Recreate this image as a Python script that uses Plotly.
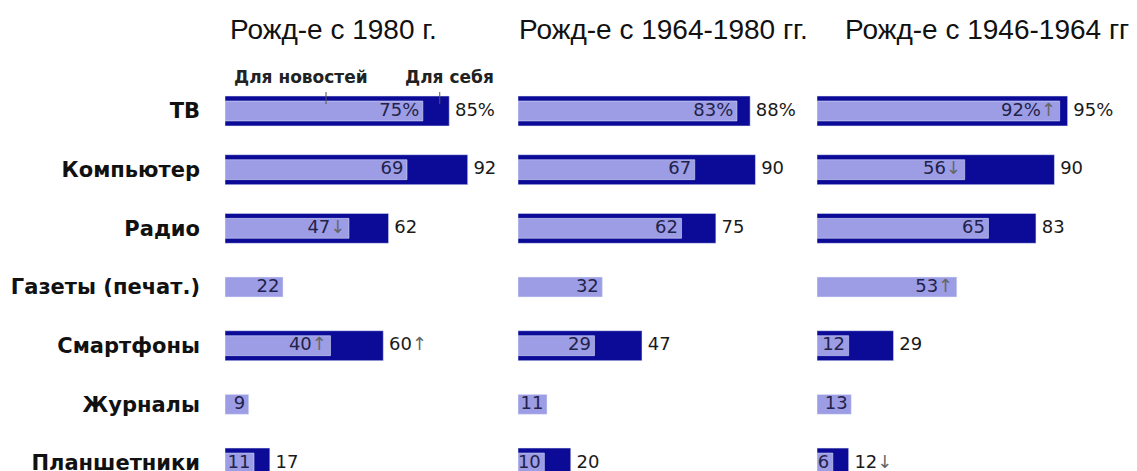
import plotly.graph_objects as go

categories = ["ТВ", "Компьютер", "Радио", "Газеты (печат.)", "Смартфоны", "Журналы", "Планшетники"]
panel_titles = ["Рожд-е с 1980 г.", "Рожд-е с 1964-1980 гг.", "Рожд-е с 1946-1964 гг"]

# Для новостей (светлые столбцы)
news_1980 = [75, 69, 47, 22, 40, 9, 11]
news_1964 = [83, 67, 62, 32, 29, 11, 10]
news_1946 = [92, 56, 65, 53, 12, 13, 6]

# Для себя (тёмные столбцы), None - нет данных
self_1980 = [85, 92, 62, None, 60, None, 17]
self_1964 = [88, 90, 75, None, 47, None, 20]
self_1946 = [95, 90, 83, None, 29, None, 12]

# стрелки изменения: "up" / "down" / ""
news_arrows_1980 = ["", "", "down", "", "up", "", ""]
news_arrows_1964 = ["", "", "", "", "", "", ""]
news_arrows_1946 = ["up", "down", "", "up", "", "", ""]
self_arrows_1980 = ["", "", "", "", "up", "", ""]
self_arrows_1964 = ["", "", "", "", "", "", ""]
self_arrows_1946 = ["", "", "", "", "", "", "down"]

DARK = "#0b0b98"
LIGHT = "#9d9de6"
W, H = 1137, 471
OFF = 8  # отступ body у страницы
ARROW = {"up": "<span style='color:#666666'>↑</span>", "down": "<span style='color:#666666'>↓</span>", "": ""}


def px_x(p):
    return (p - OFF) / W


def px_y(p):
    return 1 - (p - OFF) / H


def fmt(values, arrows):
    out = []
    for i, (v, a) in enumerate(zip(values, arrows)):
        if v is None:
            out.append("")
            continue
        s = f"{v}%" if i == 0 else f"{v}"
        out.append(s + ARROW[a])
    return out


panels = [
    (news_1980, self_1980, news_arrows_1980, self_arrows_1980),
    (news_1964, self_1964, news_arrows_1964, self_arrows_1964),
    (news_1946, self_1946, news_arrows_1946, self_arrows_1946),
]
starts_px = [225, 518, 817]
x_max = 105
panel_px = 277
row0, row_step = 111 - OFF, 58.67

fig = go.Figure()
for k, (news, own, na, sa) in enumerate(panels):
    xa = "x" if k == 0 else f"x{k + 1}"
    fig.add_trace(go.Bar(x=own, y=categories, orientation="h", marker_color=DARK,
                         width=0.51, xaxis=xa, yaxis="y", showlegend=False, hoverinfo="skip"))
    fig.add_trace(go.Bar(x=news, y=categories, orientation="h", marker_color=LIGHT,
                         width=0.34, xaxis=xa, yaxis="y", showlegend=False, hoverinfo="skip"))
    fig.add_trace(go.Scatter(x=news, y=categories, mode="text", text=[t + "\u2009" for t in fmt(news, na)],
                             textposition="middle left", xaxis=xa, yaxis="y", cliponaxis=False,
                             textfont=dict(family="DejaVu Sans", size=18, color="#22224a"),
                             showlegend=False, hoverinfo="skip"))
    fig.add_trace(go.Scatter(x=own, y=categories, mode="text", text=[" " + t if t else "" for t in fmt(own, sa)],
                             textposition="middle right", xaxis=xa, yaxis="y", cliponaxis=False,
                             textfont=dict(family="DejaVu Sans", size=18, color="#1a1a1a"),
                             showlegend=False, hoverinfo="skip"))

layout = dict(
    width=W, height=H,
    margin=dict(l=0, r=0, t=0, b=0),
    paper_bgcolor="white", plot_bgcolor="white",
    barmode="overlay",
    yaxis=dict(type="category", categoryorder="array", categoryarray=categories,
               range=[(H - row0) / row_step, -row0 / row_step], showgrid=False, zeroline=False,
               showline=False, ticks="", ticklabelstandoff=24, anchor="x", automargin=False,
               tickfont=dict(family="DejaVu Sans", size=21, color="#111111", weight="bold")),
)
for k, s in enumerate(starts_px):
    key = "xaxis" if k == 0 else f"xaxis{k + 1}"
    layout[key] = dict(domain=[px_x(s), px_x(s + panel_px)], range=[0, x_max], anchor="y",
                       showgrid=False, zeroline=False, showticklabels=False, showline=False,
                       automargin=False)
fig.update_layout(**layout)

title_px = [228, 517, 843]
for t, px in zip(panel_titles, title_px):
    fig.add_annotation(text=t, x=px_x(px), y=px_y(30), xref="paper", yref="paper",
                       xanchor="left", yanchor="middle", showarrow=False,
                       font=dict(family="Liberation Sans", size=28, color="#111111"))

fig.add_annotation(text="<b>Для новостей</b>", x=px_x(232), y=px_y(77), xref="paper", yref="paper",
                   xanchor="left", yanchor="middle", showarrow=False,
                   font=dict(family="DejaVu Sans", size=17, color="#222222"))
fig.add_annotation(text="<b>Для себя</b>", x=px_x(403), y=px_y(77), xref="paper", yref="paper",
                   xanchor="left", yanchor="middle", showarrow=False,
                   font=dict(family="DejaVu Sans", size=17, color="#222222"))
for xv in [38.3, 81.4]:
    fig.add_shape(type="line", xref="x", yref="paper", x0=xv, x1=xv,
                  y0=px_y(104), y1=px_y(92), line=dict(color="#555555", width=1))

fig.write_html("out.html")
